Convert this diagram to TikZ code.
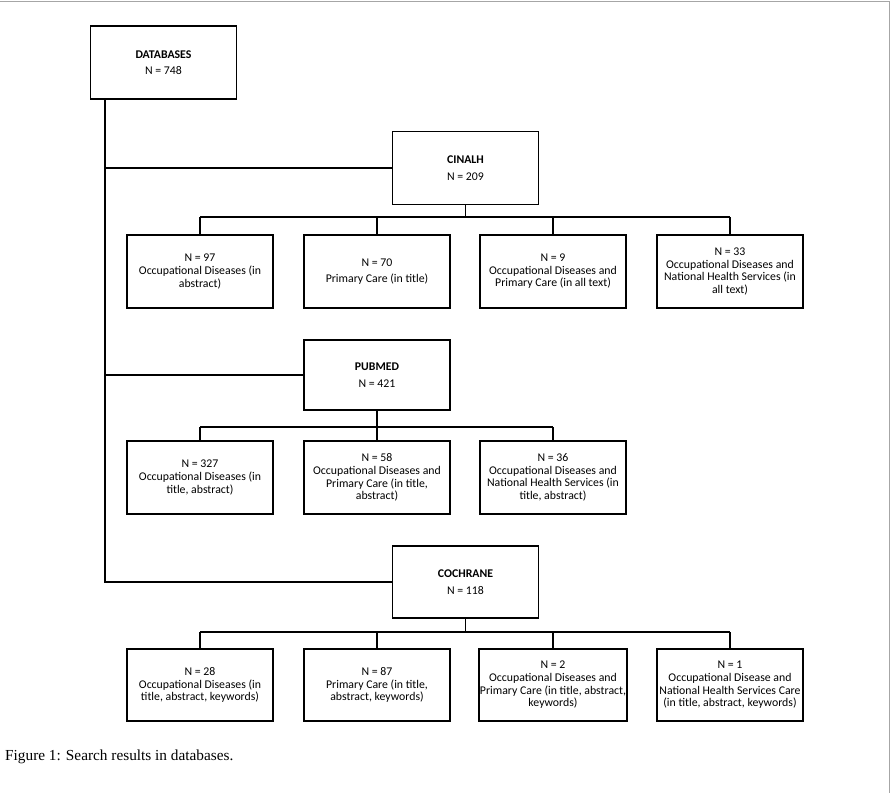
\documentclass[tikz,border=0pt]{standalone}
\usepackage{fontspec}
\setmainfont{Carlito}
\newfontfamily\capfont{Liberation Serif}
\begin{document}
\begin{tikzpicture}[x=1pt,y=-1pt,
  box/.style={draw,line width=1.3pt,minimum width=146pt,minimum height=73pt,align=center,font=\fontsize{11.8}{12.6}\selectfont,inner sep=1pt},
  con/.style={line width=1.3pt}]
\useasboundingbox (0,0) rectangle (892,793);
\draw[gray!70,line width=0.6pt] (0,1) -- (889,1) -- (889,793);
\node[box] (db) at (163.5,62.5) {\textbf{DATABASES}\\[4pt]N = 748};
\node[box] (cin) at (465.5,168) {\textbf{CINALH}\\[4pt]N = 209};
\node[box] (c1) at (200,271.5) {N = 97\\Occupational Diseases (in\\abstract)};
\node[box] (c2) at (377,271.5) {N = 70\\[4pt]Primary Care (in title)};
\node[box] (c3) at (553,271.5) {N = 9\\Occupational Diseases and\\Primary Care (in all text)};
\node[box] (c4) at (730,271.5) {N = 33\\Occupational Diseases and\\National Health Services (in\\all text)};
\node[box,minimum height=70pt] (pub) at (377,375) {\textbf{PUBMED}\\[4pt]N = 421};
\node[box] (p1) at (200,477.5) {N = 327\\Occupational Diseases (in\\title, abstract)};
\node[box] (p2) at (377,477.5) {N = 58\\Occupational Diseases and\\Primary Care (in title,\\abstract)};
\node[box] (p3) at (553,477.5) {N = 36\\Occupational Diseases and\\National Health Services (in\\title, abstract)};
\node[box,minimum height=72pt] (coc) at (465.5,582) {\textbf{COCHRANE}\\[4pt]N = 118};
\node[box,minimum height=72pt] (k1) at (200,685) {N = 28\\Occupational Diseases (in\\title, abstract, keywords)};
\node[box,minimum height=72pt] (k2) at (377,685) {N = 87\\Primary Care (in title,\\abstract, keywords)};
\node[box,minimum height=72pt] (k3) at (553,685) {N = 2\\Occupational Diseases and\\Primary Care (in title, abstract,\\keywords)};
\node[box,minimum height=72pt] (k4) at (730,685) {N = 1\\Occupational Disease and\\National Health Services Care\\(in title, abstract, keywords)};
\coordinate (dbx) at ([xshift=-58.5pt]db.south);
\draw[con] (dbx) |- (coc.west);
\draw[con] (dbx) |- (cin.west);
\draw[con] (dbx) |- (pub.west);
\foreach \p/\y/\kids in {cin/217/{c1,c2,c3,c4},coc/632/{k1,k2,k3,k4},pub/427/{p1,p2,p3}}{
  \draw[con] (\p.south) -- (\p.south |- 0,\y);
  \foreach \k in \kids { \draw[con] (\k.north) -- (\k.north |- 0,\y); }
}
\draw[con] (200,217) -- (730,217);
\draw[con] (200,427) -- (553,427);
\draw[con] (200,632) -- (730,632);
\node[anchor=west,font=\capfont\fontsize{15.3}{17}\selectfont,inner sep=0pt] (cap) at (5,757) {Figure 1: Search results in databases.};
\end{tikzpicture}
\end{document}
